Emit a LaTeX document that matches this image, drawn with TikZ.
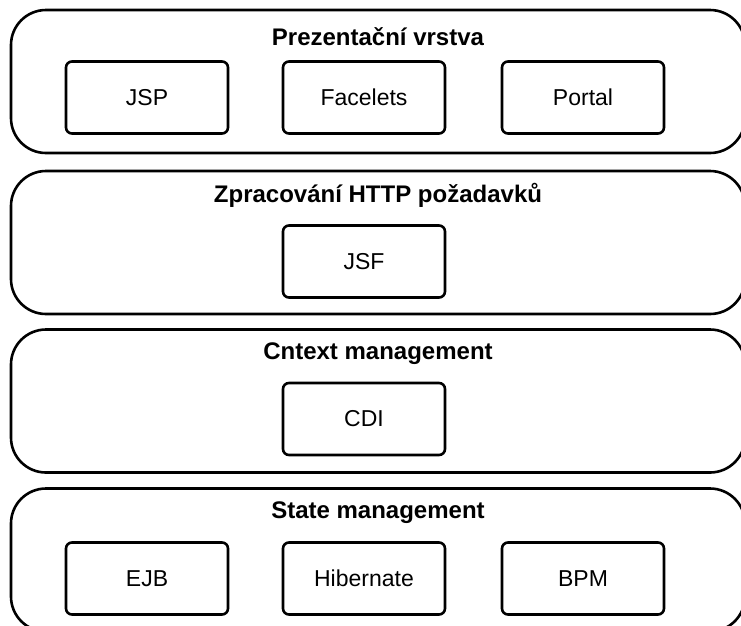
\documentclass[tikz,border=0pt]{standalone}
\usepackage{fontspec}
\setmainfont{Liberation Sans}
\usepackage{tikz}
\usetikzlibrary{positioning}

\tikzset{
  layer/.style={draw, line width=2.6pt, rounded corners=35pt, minimum width=734pt, minimum height=143pt},
  layertitle/.style={font=\fontsize{24}{28}\selectfont\bfseries},
  tech/.style={draw, line width=2.6pt, rounded corners=6pt, minimum width=162pt, minimum height=72pt, font=\fontsize{23}{27}\selectfont}
}

\begin{document}
\begin{tikzpicture}[x=1pt,y=-1pt]
\useasboundingbox (0,0) rectangle (741,625);

% Layers
\node[layer] (present) at (378,81.5) {};
\node[layer] (http) at (378,242.5) {};
\node[layer] (context) at (378,401) {};
\node[layer] (state) at (378,560) {};

% Layer titles
\node[layertitle] (presentT) at ([yshift=45pt]present.center) {Prezentační vrstva};
\node[layertitle] (httpT) at ([yshift=47pt]http.center) {Zpracování HTTP požadavků};
\node[layertitle] (contextT) at ([yshift=47pt]context.center) {Cntext management};
\node[layertitle] (stateT) at ([yshift=47pt]state.center) {State management};

% Boxes in each layer
\node[tech] (jsp) at (147,97.5) {JSP};
\node[tech] (facelets) at (364,97.5) {Facelets};
\node[tech] (portal) at (583,97.5) {Portal};

\node[tech] (jsf) at (364,261.5) {JSF};

\node[tech] (cdi) at (364,419) {CDI};

\node[tech] (ejb) at (147,578.5) {EJB};
\node[tech] (hibernate) at (364,578.5) {Hibernate};
\node[tech] (bpm) at (583,578.5) {BPM};

\end{tikzpicture}
\end{document}
